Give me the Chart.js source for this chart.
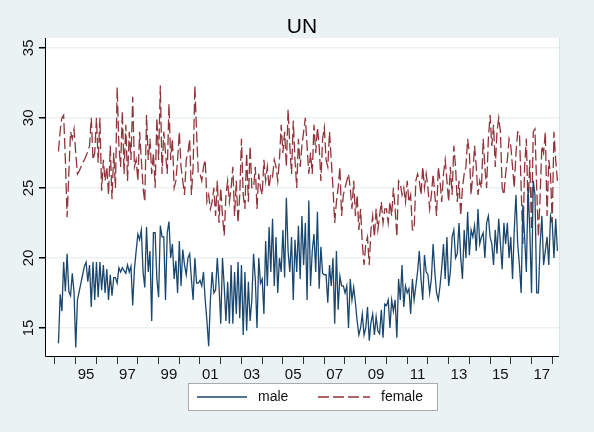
<!DOCTYPE html>
<html><head><meta charset="utf-8">
<script src="https://cdn.jsdelivr.net/npm/chart.js@4"></script>
<style>html,body{margin:0;padding:0;background:#eaf2f3}#c{display:block}</style>
</head><body><div style="width:594px;height:432px"><canvas id="c" width="594" height="432"></canvas></div>
<script>
const startYear = 1994.17; // first observation (monthly)
const male = [
13.9,17.4,16.2,19.7,17.6,20.3,17.6,17.3,18.9,17.6,
13.6,17.0,17.6,18.2,18.8,19.4,19.7,18.3,19.5,16.5,19.7,17.0,
19.7,17.2,19.7,17.7,19.5,17.5,19.2,17.0,18.8,17.3,18.6,18.6,
18.2,19.3,19.0,19.3,19.1,18.9,19.5,19.0,19.4,16.6,19.2,20.5,
21.7,21.3,22.0,19.0,17.9,22.2,19.0,20.5,15.5,21.8,21.8,18.5,
17.2,22.3,21.5,21.5,17.0,21.8,22.6,20.0,21.0,18.5,19.8,17.5,
21.2,18.0,20.6,19.5,18.8,20.0,20.3,18.5,17.0,20.0,18.2,18.2,
18.4,18.0,19.0,17.0,15.5,13.7,17.0,19.0,17.5,17.7,20.0,18.0,
15.3,20.0,18.0,15.5,18.3,15.3,19.5,15.3,19.0,16.0,19.7,15.7,
19.5,14.5,19.0,14.8,18.3,15.5,17.0,20.3,18.5,15.0,20.0,18.2,
18.5,16.0,21.2,18.0,22.2,19.0,22.8,18.0,21.5,17.5,20.0,19.0,
22.0,18.6,24.3,20.5,19.0,21.5,17.0,21.3,19.0,22.3,18.5,23.0,
19.5,22.5,17.0,24.1,18.0,20.5,21.7,19.0,23.3,17.8,20.8,18.9,
18.8,18.8,16.8,19.5,18.0,20.0,15.3,20.5,16.3,18.7,18.0,18.0,
17.5,18.0,15.0,18.5,17.0,17.9,16.8,15.5,14.5,15.0,16.0,14.5,
15.0,16.5,14.1,15.4,16.0,14.5,15.8,14.8,14.6,16.3,14.3,16.7,
16.6,17.0,15.0,17.0,16.2,17.0,14.3,18.5,17.0,19.5,16.5,18.0,
17.5,17.8,16.0,18.5,17.0,18.0,19.0,20.5,18.5,17.0,20.2,19.0,
18.8,17.5,18.5,21.0,19.0,17.5,17.0,18.0,19.3,21.0,18.5,21.5,
18.0,19.0,21.5,22.0,20.0,20.3,22.5,20.0,18.5,22.0,20.0,23.3,
20.2,22.0,21.5,22.3,20.5,23.5,21.0,21.5,21.8,20.0,22.5,23.0,
21.5,21.0,19.5,22.0,20.3,22.8,21.0,19.2,22.5,21.0,22.5,20.0,
21.5,18.5,22.0,24.5,21.0,19.5,17.5,23.8,21.5,19.0,25.0,22.0,
17.5,25.5,24.5,17.5,17.5,21.0,23.0,19.5,20.5,21.5,19.5,23.0,
22.5,20.0,22.8,20.5];
const female = [
27.6,29.1,30.0,30.2,27.0,22.9,26.0,29.0,28.5,29.2,
27.5,26.0,26.2,26.5,26.8,27.0,27.3,27.6,28.0,30.0,27.0,27.5,
30.0,26.8,30.0,24.8,27.0,25.5,26.5,24.5,28.0,24.2,27.5,25.0,
32.2,28.0,26.5,30.5,26.0,29.5,25.5,29.0,27.0,31.5,26.5,27.0,
25.5,29.0,27.0,25.0,24.0,30.2,27.0,28.5,26.0,27.5,25.0,30.0,
27.0,32.3,26.0,29.0,27.5,26.0,31.0,27.0,28.5,25.0,25.5,27.0,
29.0,26.5,25.5,24.5,27.0,27.5,28.5,24.5,26.5,32.3,29.0,26.0,
26.0,25.5,26.5,27.0,24.0,24.5,23.5,24.0,25.0,23.0,25.5,22.5,
25.0,23.0,21.6,24.5,25.5,24.0,25.0,26.5,23.0,25.5,22.5,24.5,
28.5,24.5,23.5,27.5,24.0,28.0,25.0,25.0,26.5,23.5,26.0,25.0,
24.5,27.0,25.5,26.5,25.0,26.0,25.8,27.0,26.5,25.5,27.0,29.5,
27.5,29.0,26.5,30.6,28.0,26.0,29.8,27.0,25.0,28.5,26.5,28.0,
29.0,30.0,28.0,26.0,27.5,26.0,29.5,27.5,29.3,28.0,25.5,28.5,
29.3,27.0,26.5,29.0,27.0,25.0,22.5,24.0,25.0,26.5,23.0,24.5,
25.0,25.5,26.0,25.0,23.5,25.5,23.0,24.5,22.0,23.5,21.0,19.5,
21.0,21.5,19.5,22.0,23.0,21.5,23.5,22.0,23.0,24.0,22.5,23.5,
23.5,22.5,24.0,23.0,25.0,23.5,21.5,25.5,25.3,24.5,25.0,24.0,
25.5,24.0,24.5,22.0,22.0,25.5,26.0,25.5,24.5,26.5,25.0,26.0,
25.0,23.5,24.5,26.0,24.5,23.0,26.5,25.5,24.0,26.0,27.0,25.5,
24.0,26.5,24.5,28.0,26.5,24.0,25.5,23.0,25.0,26.0,26.5,28.5,
27.5,24.5,26.0,28.0,26.5,24.5,25.5,25.0,28.5,26.5,25.0,28.5,
30.2,28.0,29.5,26.5,29.0,30.0,29.0,25.0,24.5,26.0,27.0,28.5,
28.0,26.5,25.0,27.5,29.0,29.0,25.0,21.0,26.5,28.5,23.5,27.0,
22.0,29.0,29.2,25.0,21.5,24.5,28.0,27.5,29.0,23.0,27.0,26.0,
22.5,29.0,27.0,25.5];
const xTickLabels = ['95','97','99','01','03','05','07','09','11','13','15','17'];
const xLabelYears = [1995,1997,1999,2001,2003,2005,2007,2009,2011,2013,2015,2017];
const yTicks = [15,20,25,30,35];

const toPts = arr => arr.map((v,i)=>({x:startYear+i/12, y:v}));
const BG='#eaf2f3';
const F='"Liberation Sans", Arial, sans-serif';
const deco = {
  id:'deco',
  beforeDraw(c){const {ctx,chartArea:a}=c;ctx.save();ctx.fillStyle=BG;ctx.fillRect(0,0,c.width,c.height);
    ctx.fillStyle='#fff';ctx.fillRect(a.left,a.top,a.right-a.left,a.bottom-a.top);ctx.restore();},
  afterDraw(c){const {ctx,chartArea:a}=c;const xs=c.scales.x, ys=c.scales.y;ctx.save();
    ctx.fillStyle='#000';ctx.font='21px '+F;ctx.textAlign='center';ctx.textBaseline='middle';
    ctx.fillText('UN',(a.left+a.right)/2,27);
    ctx.font='15px '+F;ctx.fillStyle='#111';
    xLabelYears.forEach((yr,i)=>{ctx.fillText(xTickLabels[i],xs.getPixelForValue(yr+0.5),375);});
    yTicks.forEach(t=>{ctx.save();ctx.translate(29,ys.getPixelForValue(t));ctx.rotate(-Math.PI/2);ctx.fillText(String(t),0,0);ctx.restore();});
    ctx.strokeStyle='#000';ctx.lineWidth=1;ctx.beginPath();ctx.moveTo(a.left+0.5,a.top);ctx.lineTo(a.left+0.5,a.bottom+0.5);ctx.lineTo(a.right,a.bottom+0.5);ctx.stroke();
    ctx.strokeStyle='#d8e4e6';ctx.beginPath();ctx.moveTo(a.right+0.5,a.top);ctx.lineTo(a.right+0.5,a.bottom);ctx.stroke();
    const lx=188,ly=383,lw=249,lh=27;ctx.fillStyle='#fff';ctx.fillRect(lx,ly,lw,lh);ctx.strokeStyle='#aaa';ctx.strokeRect(lx+0.5,ly+0.5,lw,lh);
    ctx.lineWidth=1.3;ctx.strokeStyle='#1a476f';ctx.beginPath();ctx.moveTo(197,397);ctx.lineTo(247,397);ctx.stroke();
    ctx.strokeStyle='#90353b';ctx.setLineDash([11,4]);ctx.beginPath();ctx.moveTo(318,397);ctx.lineTo(370,397);ctx.stroke();ctx.setLineDash([]);
    ctx.fillStyle='#111';ctx.font='14px '+F;ctx.textAlign='left';
    ctx.fillText('male',258,397);ctx.fillText('female',381,397);
    ctx.restore();}
};
new Chart(document.getElementById('c'),{
  type:'line',
  data:{datasets:[
    {label:'male',data:toPts(male),borderColor:'#1a476f',borderWidth:1.3,pointRadius:0,tension:0},
    {label:'female',data:toPts(female),borderColor:'#90353b',borderWidth:1.3,borderDash:[11,4],pointRadius:0,tension:0}
  ]},
  options:{responsive:false,animation:false,
    layout:{padding:{top:38,right:35,left:0,bottom:0}},
    plugins:{legend:{display:false},tooltip:{enabled:false}},
    scales:{
      x:{type:'linear',min:1993.52,max:2018.33,
        afterFit(s){s.height=76;},
        afterBuildTicks(s){const t=[];for(let y=1994;y<=2018;y++)t.push({value:y});s.ticks=t;},
        ticks:{callback:()=> '',display:true},
        grid:{drawOnChartArea:false,drawTicks:true,tickLength:8,color:'#333'},border:{display:false}},
      y:{min:13,max:35.7,
        afterFit(s){s.width=45;},
        afterBuildTicks(s){s.ticks=yTicks.map(v=>({value:v}));},
        ticks:{callback:()=> ''},
        grid:{color:'#eaf2f3',lineWidth:1.5,tickLength:6,tickColor:'#000'},border:{display:false}}
    }},
  plugins:[deco]
});
</script></body></html>
